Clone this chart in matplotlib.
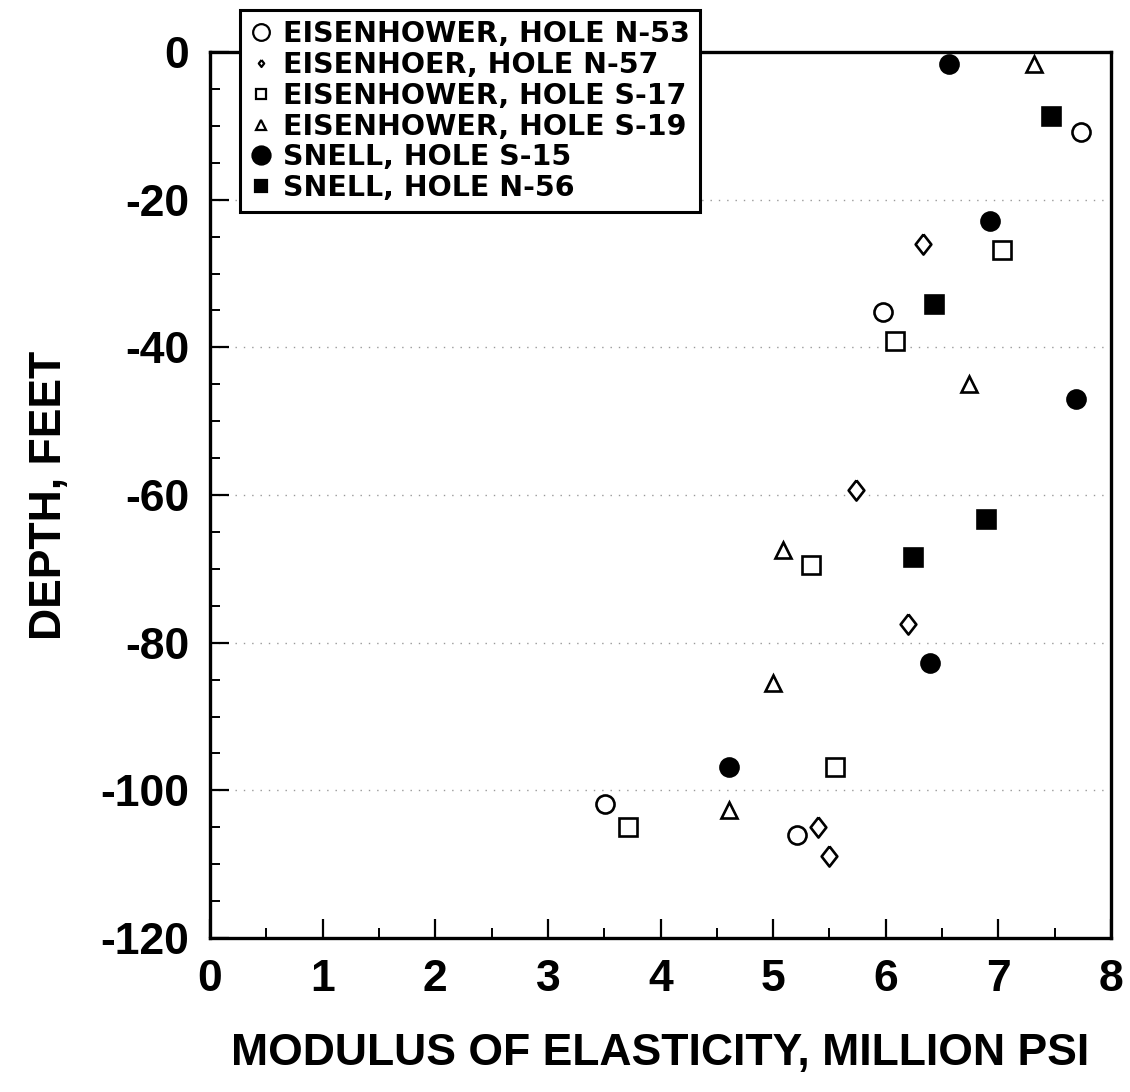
import matplotlib
matplotlib.use("Agg")
import matplotlib.pyplot as plt
from matplotlib.ticker import MultipleLocator

plt.rcParams['font.family'] = ['Liberation Sans', 'DejaVu Sans']
plt.rcParams['axes.unicode_minus'] = False

# ---- data (modulus in million psi, depth in feet) ----
labels = ["EISENHOWER, HOLE N-53", "EISENHOER, HOLE N-57", "EISENHOWER, HOLE S-17",
          "EISENHOWER, HOLE S-19", "SNELL, HOLE S-15", "SNELL, HOLE N-56"]

n53_x = [7.73, 5.98, 3.51, 5.21]
n53_y = [-10.8, -35.2, -101.9, -106.0]

n57_x = [6.33, 5.74, 6.20, 5.40, 5.50]
n57_y = [-26.0, -59.3, -77.5, -105.0, -108.9]

s17_x = [7.03, 6.08, 5.34, 5.55, 3.71]
s17_y = [-26.8, -39.1, -69.5, -96.8, -104.9]

s19_x = [7.32, 6.74, 5.09, 5.00, 4.61]
s19_y = [-1.6, -44.9, -67.4, -85.5, -102.7]

s15_x = [6.56, 6.93, 7.69, 6.39, 4.61]
s15_y = [-1.6, -22.9, -47.0, -82.7, -96.8]

n56_x = [7.47, 6.43, 6.89, 6.24]
n56_y = [-8.7, -34.1, -63.2, -68.4]

x_ticks = [0, 1, 2, 3, 4, 5, 6, 7, 8]
y_ticks = [-120, -100, -80, -60, -40, -20, 0]
grid_levels = [-20, -40, -60, -80, -100]

diamond = [(0, 1), (0.78, 0), (0, -1), (-0.78, 0), (0, 1)]

fig = plt.figure(figsize=(11.3, 10.92), dpi=100)
ax = fig.add_axes([210/1130, 1 - 938/1092, (1111-210)/1130, (938-52)/1092])

for g in grid_levels:
    ax.axhline(g, color='0.6', lw=1.0, ls=(0, (1, 5)), zorder=0)

mew = 1.9
ax.plot(n53_x, n53_y, ls='none', marker='o', ms=13, mfc='white', mec='black', mew=mew, label=labels[0])
ax.plot(n57_x, n57_y, ls='none', marker=diamond, ms=14.5, mfc='white', mec='black', mew=mew, label=labels[1])
ax.plot(s17_x, s17_y, ls='none', marker='s', ms=13, mfc='white', mec='black', mew=mew, label=labels[2])
ax.plot(s19_x, s19_y, ls='none', marker='^', ms=11.5, mfc='white', mec='black', mew=mew, label=labels[3])
ax.plot(s15_x, s15_y, ls='none', marker='o', ms=13, mfc='black', mec='black', mew=mew, label=labels[4])
ax.plot(n56_x, n56_y, ls='none', marker='s', ms=13, mfc='black', mec='black', mew=mew, label=labels[5])

ax.set_xlim(0, 8)
ax.set_ylim(-120, 0)
ax.set_xticks(x_ticks)
ax.set_yticks(y_ticks)
ax.xaxis.set_minor_locator(MultipleLocator(0.5))
ax.yaxis.set_minor_locator(MultipleLocator(5))
ax.tick_params(which='major', direction='in', length=14, width=1.6, labelsize=32, pad=15)
ax.tick_params(which='minor', direction='in', length=7, width=1.4)
ax.tick_params(axis='y', which='both', right=False)
ax.tick_params(axis='x', which='both', top=False)
for lab in ax.get_xticklabels() + ax.get_yticklabels():
    lab.set_fontweight('bold')
for sp in ax.spines.values():
    sp.set_linewidth(2.4)

ax.set_xlabel("MODULUS OF ELASTICITY, MILLION PSI", fontsize=32, fontweight='bold', labelpad=24)
ax.set_ylabel("DEPTH, FEET", fontsize=32, fontweight='bold', labelpad=22)

leg = ax.legend(loc='upper left', bbox_to_anchor=(240/1130, 1 - 10/1092),
                bbox_transform=fig.transFigure, borderaxespad=0,
                prop={'family': 'DejaVu Sans', 'weight': 'bold', 'size': 20.5},
                frameon=True, fancybox=False, framealpha=1, edgecolor='black',
                borderpad=0.35, handlelength=0.8, handletextpad=0.35, labelspacing=0.1,
                numpoints=1)
leg.get_frame().set_linewidth(2.2)
leg.set_zorder(10)
leg_sizes = [12, 5, 7, 7, 13, 8]
for h, s in zip(leg.legend_handles, leg_sizes):
    h.set_markersize(s)
    h.set_markeredgewidth(1.6)

fig.savefig("out.png", dpi=100)
